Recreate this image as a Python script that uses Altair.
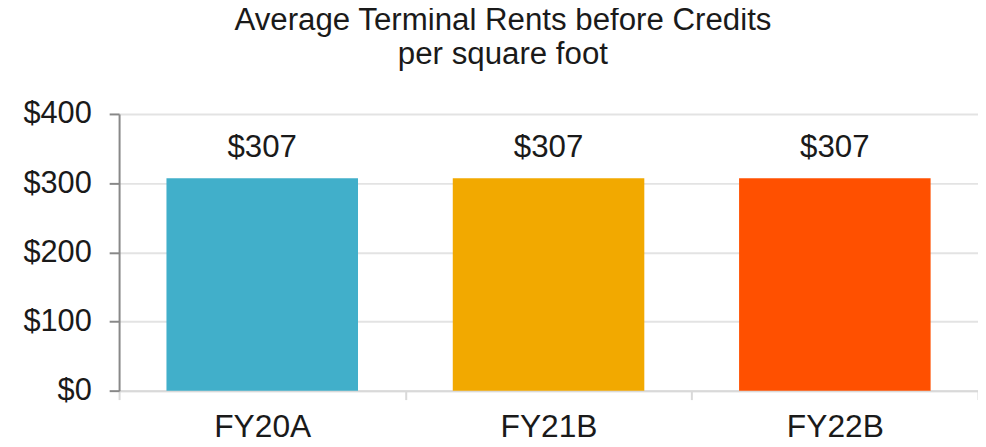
import altair as alt
import pandas as pd

categories = ["FY20A", "FY21B", "FY22B"]
values = [307, 307, 307]
bar_colors = ["#41AFCA", "#F2A900", "#FF5000"]
y_ticks = [0, 100, 200, 300, 400]

df = pd.DataFrame({"cat": categories, "val": values})
FONT = "Liberation Sans"

base = alt.Chart(df).encode(
    x=alt.X("cat:N", sort=categories,
            scale=alt.Scale(paddingInner=0, paddingOuter=0),
            axis=alt.Axis(title=None, labelAngle=0, labelFontSize=32, labelFont=FONT,
                          labelColor="#1a1a1a", labelPadding=12, tickBand="extent",
                          ticks=True, tickSize=9, tickColor="#d9d9d9", tickWidth=2,
                          domainColor="#d9d9d9", domainWidth=2, grid=False)),
)

bars = base.mark_bar(width=alt.RelativeBandSize(0.669)).encode(
    y=alt.Y("val:Q", scale=alt.Scale(domain=[0, 400], nice=False),
            axis=alt.Axis(title=None, values=y_ticks, format="$,.0f", labelFontSize=31,
                          labelFont=FONT, labelColor="#1a1a1a", labelPadding=18,
                          tickSize=10, tickColor="#888888", tickWidth=2,
                          domainColor="#888888", domainWidth=2,
                          grid=True, gridColor="#e3e3e3", gridWidth=2)),
    color=alt.Color("cat:N", sort=categories,
                    scale=alt.Scale(domain=categories, range=bar_colors), legend=None),
)

labels = base.mark_text(fontSize=31.5, font=FONT, color="#1a1a1a", baseline="alphabetic", dy=-21).encode(
    y=alt.Y("val:Q"),
    text=alt.Text("val:Q", format="$,.0f"),
)

chart = alt.layer(bars, labels).properties(
    width=866, height=279,
    autosize=alt.AutoSizeParams(type="none"),
    padding={"left": 112, "top": 105, "right": 0, "bottom": 58},
    title=alt.TitleParams(["Average Terminal Rents before Credits", "per square foot"],
                          font=FONT, fontSize=31.5, fontWeight="normal", color="#1a1a1a",
                          anchor="middle", dx=-46, lineHeight=34, baseline="alphabetic",
                          offset=3),
).configure_view(stroke=None)

chart.save("out.html", embed_options={"renderer": "svg", "actions": False})
